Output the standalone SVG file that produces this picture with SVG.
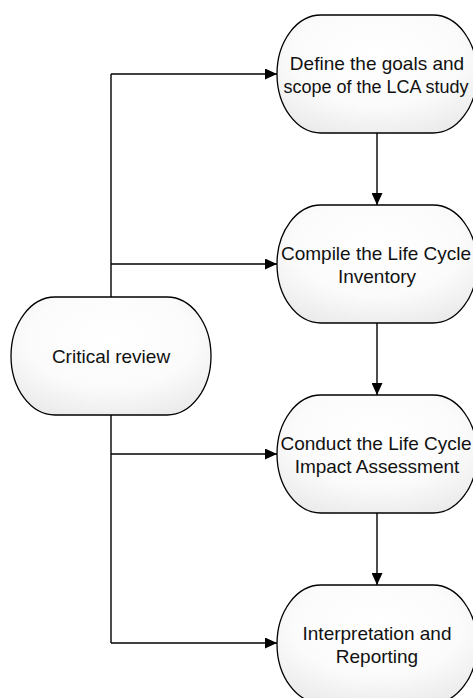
<svg xmlns="http://www.w3.org/2000/svg" width="473" height="698" viewBox="0 0 473 698">
<defs>
<radialGradient id="g" cx="50%" cy="35%" r="70%">
<stop offset="0" stop-color="#ffffff"/>
<stop offset="0.6" stop-color="#fbfbfb"/>
<stop offset="1" stop-color="#ebebeb"/>
</radialGradient>
<marker id="ah" viewBox="0 0 12 11" refX="12" refY="5.5" markerWidth="12" markerHeight="11" markerUnits="userSpaceOnUse" orient="auto">
<path d="M0,0 L12,5.5 L0,11 Z" fill="#000"/>
</marker>
</defs>
<style>
.n{fill:url(#g);stroke:#000;stroke-width:1.3}
.c{fill:none;stroke:#000;stroke-width:1.4}
.t{font-family:"Liberation Sans",Arial,sans-serif;font-size:19px;fill:#111;text-anchor:middle}
.s{font-size:18px}
</style>
<rect width="473" height="698" fill="#fff"/>
<g id="connectors">
<path class="c" d="M111,74 V643"/>
<path class="c" d="M111,74 H277" marker-end="url(#ah)"/>
<path class="c" d="M111,264 H277" marker-end="url(#ah)"/>
<path class="c" d="M111,454 H277" marker-end="url(#ah)"/>
<path class="c" d="M111,643 H277" marker-end="url(#ah)"/>
<path class="c" d="M377,133 V205" marker-end="url(#ah)"/>
<path class="c" d="M377,323 V395" marker-end="url(#ah)"/>
<path class="c" d="M377,513 V585" marker-end="url(#ah)"/>
</g>
<g id="critical">
<rect class="n" x="11" y="297" width="200" height="118" rx="44" ry="59"/>
<text class="t" x="111" y="363">Critical review</text>
</g>
<g id="goals">
<rect class="n" x="277" y="15" width="200" height="118" rx="44" ry="59"/>
<text class="t" x="377" y="70">Define the goals and</text>
<text class="t s" x="376" y="93">scope of the LCA study</text>
</g>
<g id="inventory">
<rect class="n" x="277" y="205" width="200" height="118" rx="44" ry="59"/>
<text class="t" x="376" y="260">Compile the Life Cycle</text>
<text class="t" x="377" y="283">Inventory</text>
</g>
<g id="impact">
<rect class="n" x="277" y="395" width="200" height="118" rx="44" ry="59"/>
<text class="t" x="376" y="450">Conduct the Life Cycle</text>
<text class="t" x="377" y="473">Impact Assessment</text>
</g>
<g id="interpretation">
<rect class="n" x="277" y="585" width="200" height="118" rx="44" ry="59"/>
<text class="t" x="377" y="640">Interpretation and</text>
<text class="t" x="377" y="663">Reporting</text>
</g>
</svg>
